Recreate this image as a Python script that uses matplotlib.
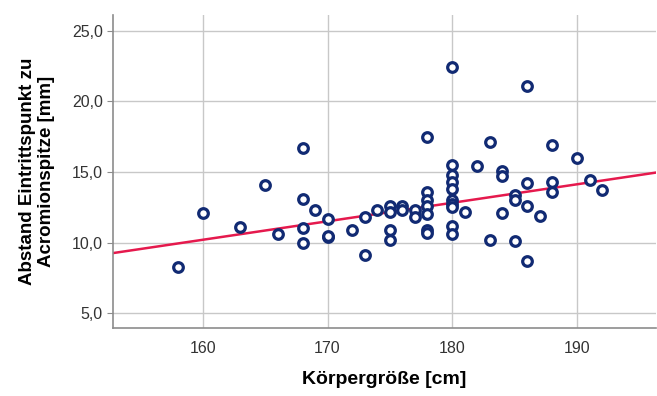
import numpy as np
import matplotlib.pyplot as plt
from matplotlib.ticker import FuncFormatter

plt.rcParams['font.family'] = ['Liberation Sans', 'DejaVu Sans']

# Körpergröße [cm] and Abstand [mm]
groesse = [158, 160, 163, 165, 166,
           168, 168, 168, 168, 169,
           170, 170, 170, 172, 173, 173, 174,
           175, 175, 175, 175, 176, 176, 177, 177,
           178, 178, 178, 178, 178, 178, 178,
           180, 180, 180, 180, 180, 180, 180, 180, 180, 180,
           181, 182, 183, 183, 184, 184, 184,
           185, 185, 185, 186, 186, 186, 186, 187,
           188, 188, 188, 190, 191, 192]
abstand = [8.3, 12.1, 11.1, 14.1, 10.6,
           16.7, 13.1, 11.0, 10.0, 12.3,
           11.7, 10.4, 10.5, 10.9, 11.8, 9.1, 12.3,
           12.6, 12.2, 10.9, 10.2, 12.6, 12.3, 12.3, 11.8,
           17.5, 13.6, 13.0, 12.6, 12.0, 10.9, 10.7,
           22.4, 15.5, 14.8, 14.3, 13.8, 13.0, 12.7, 12.5, 11.2, 10.6,
           12.2, 15.4, 17.1, 10.2, 15.1, 14.7, 12.1,
           13.4, 13.0, 10.1, 21.1, 14.2, 12.6, 8.7, 11.9,
           16.9, 14.3, 13.6, 16.0, 14.4, 13.7]

# fit line as shown in the picture
fit_intercept = -10.76
fit_slope = 0.131

x = np.array(groesse)
y = np.array(abstand)

fig = plt.figure(figsize=(6.57, 3.96), dpi=100)
ax = fig.add_axes([0.1715, 0.171, 0.827, 0.791])

xmin, xmax = 152.8, 196.3
ax.set_xlim(xmin, xmax)
ax.set_ylim(3.94, 26.1)

ax.grid(True, color='#c8c8c8', linewidth=1.0)
ax.set_axisbelow(True)

xl = np.array([xmin, xmax])
ax.plot(xl, fit_intercept + fit_slope * xl, color='#e5194d', linewidth=1.8, zorder=2)
ax.scatter(x, y, s=48, facecolors='white', edgecolors='#112a73',
           linewidths=2.3, zorder=3)

ax.set_xticks([160, 170, 180, 190])
ax.set_yticks([5, 10, 15, 20, 25])
ax.yaxis.set_major_formatter(FuncFormatter(lambda v, p: f'{v:.1f}'.replace('.', ',')))

for s in ['top', 'right']:
    ax.spines[s].set_visible(False)
for s in ['left', 'bottom']:
    ax.spines[s].set_color('#8c8c8c')
    ax.spines[s].set_linewidth(1.2)

ax.tick_params(axis='x', length=0, pad=9, labelsize=11.5, labelcolor='#333333')
ax.tick_params(axis='y', length=4, color='#8c8c8c', pad=3, labelsize=11.5,
               labelcolor='#333333')

ax.set_xlabel('Körpergröße [cm]', fontsize=14, fontweight='bold', labelpad=11)
ax.set_ylabel('Abstand Eintrittspunkt zu\nAcromionspitze [mm]', fontsize=13.5,
              fontweight='bold', labelpad=12, linespacing=1.15,
              multialignment='center')

plt.savefig('out.png', dpi=100)
